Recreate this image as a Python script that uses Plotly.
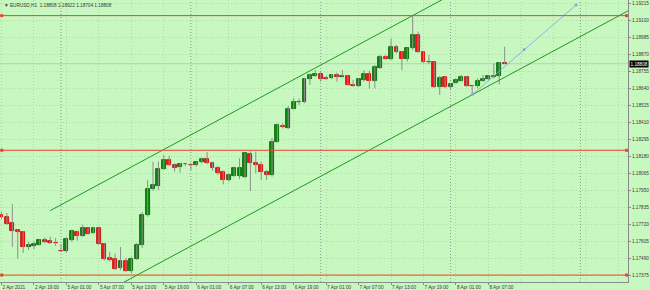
import plotly.graph_objects as go

# ---------------- data ----------------
bar_index = list(range(94))
opens = [1.17782,1.17772,1.17725,1.17679,1.17667,1.17567,1.17574,1.17581,1.17613,1.17606,
         1.17593,1.17538,1.17536,1.17615,1.17667,1.17642,1.17692,1.17658,1.17694,1.17584,
         1.17489,1.17482,1.17421,1.17472,1.17401,1.17486,1.17581,1.17780,1.17957,1.17979,
         1.18092,1.18155,1.18121,1.18106,1.18126,1.18121,1.18123,1.18140,1.18160,1.18133,
         1.18103,1.18072,1.18020,1.18049,1.18047,1.18038,1.18196,1.18133,1.18120,1.18077,
         1.18054,1.18279,1.18388,1.18374,1.18503,1.18551,1.18546,1.18704,1.18727,1.18736,
         1.18711,1.18709,1.18734,1.18716,1.18725,1.18664,1.18660,1.18698,1.18736,1.18691,
         1.18781,1.18856,1.18838,1.18919,1.18890,1.18840,1.18913,1.19006,1.18885,1.18822,
         1.18818,1.18650,1.18716,1.18650,1.18679,1.18691,1.18720,1.18659,1.18657,1.18691,
         1.18702,1.18721,1.18727,1.18811]
highs = [1.17803,1.17796,1.17857,1.17687,1.17674,1.17601,1.17603,1.17616,1.17631,1.17635,
         1.17626,1.17586,1.17633,1.17684,1.17677,1.17717,1.17698,1.17701,1.17699,1.17589,
         1.17531,1.17521,1.17565,1.17491,1.17500,1.17593,1.17803,1.18020,1.18142,1.18144,
         1.18189,1.18182,1.18133,1.18135,1.18135,1.18135,1.18144,1.18171,1.18209,1.18144,
         1.18115,1.18083,1.18065,1.18110,1.18167,1.18205,1.18212,1.18212,1.18144,1.18087,
         1.18304,1.18403,1.18404,1.18521,1.18574,1.18572,1.18713,1.18743,1.18765,1.18754,
         1.18725,1.18738,1.18747,1.18765,1.18732,1.18698,1.18709,1.18765,1.18761,1.18799,
         1.18867,1.18867,1.18980,1.18935,1.18894,1.18917,1.19138,1.19025,1.18890,1.18867,
         1.18822,1.18725,1.18725,1.18677,1.18709,1.18732,1.18725,1.18664,1.18709,1.18732,
         1.18730,1.18811,1.18818,1.18923]
lows = [1.17755,1.17715,1.17565,1.17484,1.17525,1.17545,1.17552,1.17576,1.17590,1.17586,
        1.17572,1.17531,1.17527,1.17599,1.17609,1.17635,1.17650,1.17654,1.17579,1.17472,
        1.17466,1.17409,1.17409,1.17396,1.17387,1.17477,1.17559,1.17771,1.17947,1.17952,
        1.18087,1.18115,1.18076,1.18069,1.18115,1.18087,1.18110,1.18133,1.18128,1.18083,
        1.18054,1.17990,1.18008,1.18042,1.18026,1.18031,1.17945,1.18065,1.18020,1.18020,
        1.18042,1.18274,1.18370,1.18365,1.18499,1.18528,1.18540,1.18664,1.18718,1.18686,
        1.18698,1.18704,1.18686,1.18713,1.18659,1.18652,1.18652,1.18686,1.18637,1.18641,
        1.18772,1.18833,1.18833,1.18879,1.18765,1.18822,1.18901,1.18881,1.18813,1.18806,
        1.18643,1.18596,1.18643,1.18630,1.18674,1.18686,1.18652,1.18596,1.18641,1.18686,
        1.18698,1.18709,1.18668,1.18805]
closes = [1.17769,1.17721,1.17677,1.17667,1.17567,1.17579,1.17586,1.17611,1.17601,1.17590,
          1.17590,1.17536,1.17618,1.17672,1.17642,1.17694,1.17656,1.17694,1.17584,1.17486,
          1.17479,1.17418,1.17468,1.17401,1.17486,1.17581,1.17780,1.17957,1.17986,1.18092,
          1.18155,1.18121,1.18103,1.18128,1.18125,1.18120,1.18140,1.18162,1.18133,1.18099,
          1.18069,1.18020,1.18054,1.18103,1.18100,1.18201,1.18133,1.18120,1.18076,1.18052,
          1.18279,1.18393,1.18377,1.18503,1.18551,1.18548,1.18704,1.18732,1.18736,1.18704,
          1.18704,1.18732,1.18716,1.18727,1.18664,1.18659,1.18704,1.18738,1.18694,1.18784,
          1.18856,1.18840,1.18919,1.18890,1.18840,1.18913,1.19006,1.18885,1.18818,1.18818,
          1.18648,1.18713,1.18650,1.18670,1.18698,1.18720,1.18657,1.18657,1.18693,1.18704,
          1.18723,1.18727,1.18811,1.18808]

time_tick_bars = [0, 6, 12, 18, 24, 30, 36, 42, 48, 54, 60, 66, 72, 78, 84, 90]
time_tick_labels = ["2 Apr 2021", "2 Apr 19:00", "5 Apr 01:00", "5 Apr 07:00", "5 Apr 13:00",
                    "5 Apr 19:00", "6 Apr 01:00", "6 Apr 07:00", "6 Apr 13:00", "6 Apr 19:00",
                    "7 Apr 01:00", "7 Apr 07:00", "7 Apr 13:00", "7 Apr 19:00", "8 Apr 01:00",
                    "8 Apr 07:00"]
future_grid_bars = [96, 102, 108, 114]
price_ticks = [1.17375, 1.17490, 1.17605, 1.17720, 1.17835, 1.17950, 1.18065, 1.18180, 1.18295,
               1.18410, 1.18525, 1.18640, 1.18755, 1.18870, 1.18985, 1.19100, 1.19215]
price_tick_labels = ["1.17375", "1.17490", "1.17605", "1.17720", "1.17835", "1.17950", "1.18065",
                     "1.18180", "1.18295", "1.18410", "1.18525", "1.18640", "1.18755", "1.18870",
                     "1.18985", "1.19100", "1.19215"]
day_separator_bars = [11, 35, 59, 83, 107]
red_levels = [1.19134, 1.18221, 1.17375]
upper_channel_bars = [9.0, 86.0]
upper_channel_prices = [1.17812, 1.19332]
lower_channel_bars = [20.0, 116.0]
lower_channel_prices = [1.17275, 1.19170]
projection_bars = [87.1, 96.6, 106.2]
projection_prices = [1.18601, 1.18904, 1.19206]
bid_price = 1.18808
header_text = "\u25bc EURUSD,H1  1.18808 1.18922 1.18704 1.18808"

# ---------------- styling ----------------
BG = "#c6f8c0"
GRID = "#b2d8ae"
SEP = "#8c9a8c"
AXIS = "#8a8a8a"
TXT = "#3a3a3a"
FONT = "Liberation Sans"
FS = 4.7
X_RANGE = [-0.28, 115.8]
Y_RANGE = [1.17328, 1.19240]

fig = go.Figure()

# wicks
wx, wy = [], []
for i, lo, hi in zip(bar_index, lows, highs):
    wx += [i, i, None]
    wy += [lo, hi, None]
fig.add_trace(go.Scatter(x=wx, y=wy, mode="lines", line=dict(color="#8e8e8e", width=1),
                         hoverinfo="skip", showlegend=False))

# bodies
base = [min(o, c) for o, c in zip(opens, closes)]
height = [max(abs(c - o), 0.000012) for o, c in zip(opens, closes)]
fill = ["#0a8a0a" if c >= o else "#ff1010" for o, c in zip(opens, closes)]
edge = ["#045a04" if c >= o else "#d00000" for o, c in zip(opens, closes)]
fig.add_trace(go.Bar(x=bar_index, y=height, base=base, width=0.72,
                     marker=dict(color=fill, line=dict(color=edge, width=0.8)),
                     hoverinfo="skip", showlegend=False))

# channel lines
fig.add_trace(go.Scatter(x=upper_channel_bars, y=upper_channel_prices, mode="lines",
                         line=dict(color="#1f9a1f", width=1), showlegend=False, hoverinfo="skip"))
fig.add_trace(go.Scatter(x=lower_channel_bars, y=lower_channel_prices, mode="lines",
                         line=dict(color="#1f9a1f", width=1), showlegend=False, hoverinfo="skip"))

# projection line
fig.add_trace(go.Scatter(x=projection_bars, y=projection_prices, mode="lines+markers",
                         line=dict(color="#7f9ff0", width=0.8),
                         marker=dict(symbol="square", size=2.5, color="#7f9ff0"),
                         showlegend=False, hoverinfo="skip"))

# red horizontal levels
for lvl in red_levels:
    fig.add_trace(go.Scatter(x=[X_RANGE[0], X_RANGE[1]], y=[lvl, lvl], mode="lines",
                             line=dict(color="#f0402c", width=1), showlegend=False, hoverinfo="skip"))
    fig.add_trace(go.Scatter(x=[0.05, X_RANGE[1] - 0.25], y=[lvl, lvl], mode="markers",
                             marker=dict(symbol="square", size=3, color="#f0402c"),
                             showlegend=False, hoverinfo="skip", cliponaxis=False))

shapes = []
# day separators
for b in day_separator_bars:
    shapes.append(dict(type="line", xref="x", yref="paper", x0=b, x1=b, y0=0, y1=1,
                       line=dict(color=SEP, width=1, dash="1px,2px"), layer="below"))
# future vertical grid
for b in future_grid_bars:
    shapes.append(dict(type="line", xref="x", yref="paper", x0=b, x1=b, y0=0, y1=1,
                       line=dict(color=GRID, width=1, dash="1px,2px"), layer="below"))
# bid line
shapes.append(dict(type="line", xref="paper", yref="y", x0=0, x1=1, y0=bid_price, y1=bid_price,
                   line=dict(color="#c0c8c0", width=1), layer="below"))

annotations = [
    dict(text=header_text, xref="paper", yref="paper", x=0.003, y=0.995, xanchor="left",
         yanchor="top", showarrow=False, font=dict(family=FONT, size=FS, color=TXT)),
    dict(text="1.18808", xref="paper", yref="y", x=1.0, y=bid_price, xanchor="left",
         yanchor="middle", showarrow=False, bgcolor="#000000", borderpad=0.5, xshift=1,
         font=dict(family=FONT, size=FS, color="#ffffff")),
]

fig.update_layout(
    width=650, height=290,
    margin=dict(l=0, r=22, t=0, b=8, autoexpand=False),
    paper_bgcolor=BG, plot_bgcolor=BG,
    bargap=0, barmode="overlay",
    shapes=shapes, annotations=annotations,
    xaxis=dict(range=X_RANGE, tickmode="array", tickvals=time_tick_bars, ticktext=time_tick_labels,
               showgrid=True, gridcolor=GRID, griddash="1px,2px", gridwidth=1,
               showline=True, linecolor=AXIS, linewidth=1, mirror=True,
               ticks="outside", ticklen=2, tickcolor=AXIS, tickangle=0, automargin=False,
               ticklabelposition="outside right",
               tickfont=dict(family=FONT, size=FS, color=TXT), zeroline=False, fixedrange=True),
    yaxis=dict(range=Y_RANGE, side="right", tickmode="array", tickvals=price_ticks,
               ticktext=price_tick_labels, automargin=False,
               showgrid=True, gridcolor=GRID, griddash="1px,2px", gridwidth=1,
               showline=True, linecolor=AXIS, linewidth=1, mirror=True,
               ticks="outside", ticklen=2, tickcolor=AXIS,
               tickfont=dict(family=FONT, size=FS, color=TXT), zeroline=False, fixedrange=True),
)

fig.write_html("out.html")
